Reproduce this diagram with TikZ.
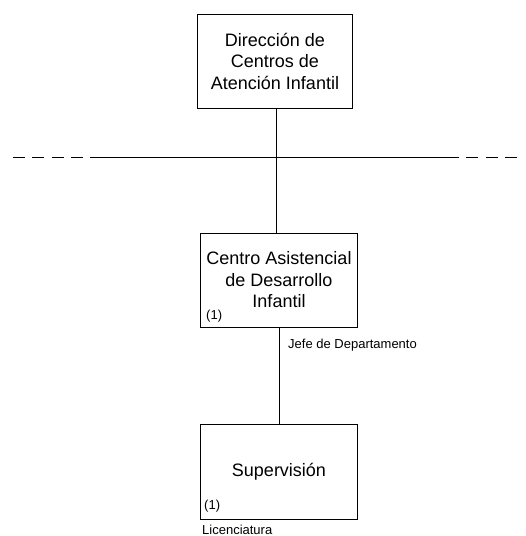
\documentclass[tikz,border=0pt]{standalone}
\usepackage{fontspec}
\setmainfont{Liberation Sans}
\begin{document}
\begin{tikzpicture}[
  x=1pt, y=-1pt,
  font=\fontsize{18}{21.5}\selectfont,
  unit/.style={draw, line width=1pt, align=center, inner sep=0pt},
  rel/.style={line width=1pt},
  note/.style={font=\fontsize{13}{15}\selectfont, inner sep=0pt}
]
\useasboundingbox (0,0) rectangle (526,536);

\node[unit, minimum width=155pt, minimum height=94pt] (dir) at (275,61)
  {Dirección de\\ Centros de\\ Atención Infantil};

\node[unit, minimum width=157pt, minimum height=94pt] (cadi) at (279,280)
  {Centro Asistencial\\ de Desarrollo\\ Infantil};

\node[unit, minimum width=157pt, minimum height=95pt] (sup) at (279,472)
  {Supervisión};

\node[note, anchor=south west] (cadinum) at ([shift={(6,-5)}]cadi.south west) {(1)};
\node[note, anchor=north west] (jefe) at ([shift={(9,11)}]cadi.south) {Jefe de Departamento};
\node[note, anchor=south west] (supnum) at ([shift={(4,-8)}]sup.south west) {(1)};
\node[note, anchor=north west] (lic) at ([shift={(2,5)}]sup.south west) {Licenciatura};

\coordinate (lineL) at (13,157);
\coordinate (lineA) at (100,157);
\coordinate (lineB) at (447,157);
\coordinate (lineR) at (517,157);

\draw[rel, dash pattern=on 12pt off 7.3pt] (lineL) -- (lineA);
\draw[rel] (lineA) -- (lineB);
\draw[rel, dash pattern=on 12pt off 7.3pt] (lineR) -- (lineB);

\draw[rel] (dir.south) ++(1.5,0) coordinate (spine) -- (spine |- cadi.north);
\draw[rel] (cadi.south) -- (sup.north);
\end{tikzpicture}
\end{document}
